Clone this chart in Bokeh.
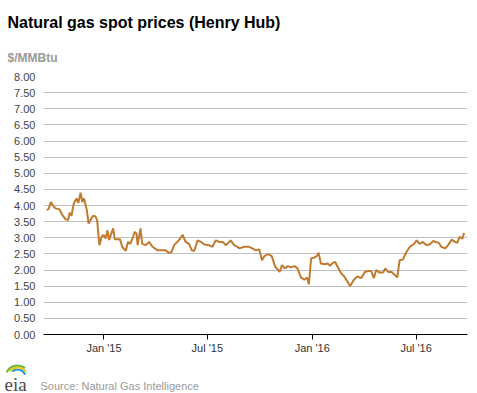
import pandas as pd
from bokeh.plotting import figure
from bokeh.layouts import column
from bokeh.models import (Range1d, FixedTicker, NumeralTickFormatter, Label,
                          ColumnDataSource)
from bokeh.embed import file_html
from bokeh.resources import INLINE

# ---- data ----
dates = [
    "2014-09-23", "2014-09-26", "2014-09-30", "2014-10-03", "2014-10-08", "2014-10-15",
    "2014-10-20", "2014-10-26", "2014-10-30", "2014-11-02", "2014-11-05", "2014-11-09",
    "2014-11-14", "2014-11-17", "2014-11-21", "2014-11-24", "2014-11-27", "2014-12-02",
    "2014-12-05", "2014-12-10", "2014-12-13", "2014-12-17", "2014-12-20", "2014-12-24",
    "2014-12-28", "2014-12-31", "2015-01-04", "2015-01-07", "2015-01-10", "2015-01-13",
    "2015-01-17", "2015-01-20", "2015-01-24", "2015-01-29", "2015-02-02", "2015-02-08",
    "2015-02-12", "2015-02-16", "2015-02-21", "2015-02-24", "2015-02-27", "2015-03-01",
    "2015-03-06", "2015-03-09", "2015-03-15", "2015-03-21", "2015-03-27", "2015-04-05",
    "2015-04-13", "2015-04-19", "2015-04-25", "2015-04-29", "2015-05-04", "2015-05-12",
    "2015-05-19", "2015-05-24", "2015-05-30", "2015-06-04", "2015-06-08", "2015-06-14",
    "2015-06-20", "2015-06-26", "2015-07-04", "2015-07-10", "2015-07-16", "2015-07-22",
    "2015-07-28", "2015-08-03", "2015-08-11", "2015-08-17", "2015-08-23", "2015-08-26",
    "2015-09-04", "2015-09-12", "2015-09-18", "2015-09-24", "2015-09-30", "2015-10-05",
    "2015-10-09", "2015-10-16", "2015-10-22", "2015-10-28", "2015-11-05", "2015-11-09",
    "2015-11-14", "2015-11-19", "2015-11-25", "2015-12-01", "2015-12-06", "2015-12-12",
    "2015-12-18", "2015-12-23", "2015-12-26", "2015-12-30", "2016-01-05", "2016-01-09",
    "2016-01-12", "2016-01-16", "2016-01-22", "2016-01-28", "2016-02-01", "2016-02-06",
    "2016-02-10", "2016-02-15", "2016-02-21", "2016-02-26", "2016-03-04", "2016-03-07",
    "2016-03-14", "2016-03-20", "2016-03-27", "2016-04-02", "2016-04-08", "2016-04-13",
    "2016-04-18", "2016-04-22", "2016-04-28", "2016-05-04", "2016-05-08", "2016-05-13",
    "2016-05-19", "2016-05-25", "2016-05-29", "2016-06-02", "2016-06-08", "2016-06-14",
    "2016-06-20", "2016-06-26", "2016-07-02", "2016-07-07", "2016-07-13", "2016-07-19",
    "2016-07-25", "2016-07-31", "2016-08-04", "2016-08-10", "2016-08-14", "2016-08-21",
    "2016-08-26", "2016-09-01", "2016-09-07", "2016-09-11", "2016-09-15", "2016-09-20",
    "2016-09-23",
]
prices = [
    3.85, 3.90, 4.11, 4.01, 3.91, 3.88,
    3.70, 3.57, 3.55, 3.78, 3.68, 4.06,
    4.22, 4.08, 4.40, 4.11, 4.22, 3.85,
    3.44, 3.60, 3.68, 3.66, 3.54, 2.77,
    3.03, 3.09, 2.98, 3.23, 2.93, 3.09,
    3.29, 2.95, 2.95, 2.95, 2.72, 2.59,
    2.87, 2.81, 3.03, 3.18, 3.13, 2.77,
    3.29, 2.81, 2.77, 2.87, 2.72, 2.61,
    2.61, 2.61, 2.53, 2.55, 2.77, 2.92,
    3.09, 2.87, 2.81, 2.61, 2.59, 2.92,
    2.87, 2.79, 2.77, 2.72, 2.92, 2.87,
    2.87, 2.77, 2.92, 2.77, 2.72, 2.67,
    2.72, 2.72, 2.67, 2.61, 2.64, 2.30,
    2.43, 2.49, 2.43, 2.10, 1.94, 2.15,
    2.05, 2.12, 2.08, 2.12, 2.05, 1.77,
    1.70, 1.77, 1.56, 2.36, 2.39, 2.43,
    2.54, 2.20, 2.18, 2.20, 2.13, 2.22,
    2.25, 2.08, 1.89, 1.80, 1.60, 1.50,
    1.70, 1.80, 1.75, 1.94, 1.97, 1.97,
    1.75, 2.00, 1.92, 1.92, 2.05, 1.94,
    1.94, 1.84, 1.77, 2.30, 2.33, 2.56,
    2.72, 2.79, 2.92, 2.81, 2.87, 2.77,
    2.80, 2.90, 2.87, 2.84, 2.72, 2.67,
    2.77, 2.94, 2.87, 2.84, 3.03, 2.97,
    3.15,
]
y_ticks = [0.0, 0.5, 1.0, 1.5, 2.0, 2.5, 3.0, 3.5, 4.0, 4.5, 5.0, 5.5, 6.0, 6.5, 7.0, 7.5, 8.0]
x_tick_dates = ["2015-01-01", "2015-07-01", "2016-01-01", "2016-07-01"]
x_tick_labels = ["Jan '15", "Jul '15", "Jan '16", "Jul '16"]
x_start, x_end = "2014-09-17", "2016-09-29"

title_text = "Natural gas spot prices (Henry Hub)"
unit_text = "$/MMBtu"
source_text = "Source: Natural Gas Intelligence"
logo_text = "eia"

W = 477


def blank(height):
    f = figure(width=W, height=height, output_backend="svg", toolbar_location=None,
               x_range=Range1d(0, W), y_range=Range1d(0, height),
               x_axis_location=None, y_axis_location=None,
               min_border=0, min_border_left=0, min_border_right=0,
               min_border_top=0, min_border_bottom=0, frame_align=False)
    f.outline_line_color = None
    f.xgrid.visible = False
    f.ygrid.visible = False
    return f


# ---- header ----
head = blank(63)
head.add_layout(Label(x=7, y=41, text=title_text, text_font="Liberation Sans",
                      text_font_style="bold", text_font_size="16px",
                      text_color="black", text_baseline="alphabetic"))
head.add_layout(Label(x=7, y=6, text=unit_text, text_font="Liberation Sans",
                      text_font_style="bold", text_font_size="12px",
                      text_color="#9a9a9a", text_baseline="alphabetic"))

# ---- main chart ----
src = ColumnDataSource(dict(date=pd.to_datetime(dates), price=prices))

p = figure(width=W, height=297, x_axis_type="datetime",
           output_backend="svg", toolbar_location=None,
           x_range=Range1d(pd.Timestamp(x_start), pd.Timestamp(x_end)),
           y_range=Range1d(0, 8), frame_align=False,
           min_border_left=43, min_border_right=10,
           min_border_top=13, min_border_bottom=26)
p.outline_line_color = None

p.line(x="date", y="price", source=src, line_color="#c17a2f", line_width=2)

tick_ms = [pd.Timestamp(d).value // 10**6 for d in x_tick_dates]
p.xaxis.ticker = FixedTicker(ticks=tick_ms)
p.xaxis.major_label_overrides = {t: l for t, l in zip(tick_ms, x_tick_labels)}
p.xaxis.axis_line_color = "black"
p.xaxis.major_tick_line_color = "black"
p.xaxis.major_tick_in = 0
p.xaxis.major_tick_out = 5
p.xaxis.minor_tick_line_color = None
p.xaxis.minor_tick_in = 0
p.xaxis.minor_tick_out = 0
p.xaxis.major_label_text_font = "Liberation Sans"
p.xaxis.major_label_text_font_size = "11px"
p.xaxis.major_label_text_color = "#333333"
p.xaxis.major_label_standoff = 2
p.xgrid.visible = False

p.yaxis.ticker = FixedTicker(ticks=y_ticks)
p.yaxis.formatter = NumeralTickFormatter(format="0.00")
p.yaxis.axis_line_color = None
p.yaxis.major_tick_line_color = None
p.yaxis.minor_tick_line_color = None
p.yaxis.major_tick_in = 0
p.yaxis.major_tick_out = 0
p.yaxis.minor_tick_in = 0
p.yaxis.minor_tick_out = 0
p.yaxis.major_label_text_font = "Liberation Sans"
p.yaxis.major_label_text_font_size = "11px"
p.yaxis.major_label_text_color = "#444444"
p.yaxis.major_label_standoff = 8
p.ygrid.ticker = FixedTicker(ticks=y_ticks)
p.ygrid.grid_line_color = "#c0c0c0"
p.ygrid.grid_line_width = 1

# ---- footer (logo + source) ----
foot = blank(33)
foot.arc(x=[17, 17, 17], y=[16, 16, 16], radius=[8, 10, 12],
         start_angle=[0.35, 0.6, 0.9], end_angle=[2.3, 2.5, 2.7],
         line_color=["#1f9ad6", "#f2c80f", "#6cb33f"], line_width=2)
foot.add_layout(Label(x=4, y=9, text=logo_text, text_font="Liberation Serif",
                      text_font_size="19px", text_color="#4a4a4a",
                      text_baseline="alphabetic"))
foot.add_layout(Label(x=40, y=8, text=source_text, text_font="Liberation Sans",
                      text_font_size="11px", text_color="#9a9a9a",
                      text_baseline="alphabetic"))

layout = column(head, p, foot, spacing=0)
open("out.html", "w").write(file_html(layout, INLINE))
